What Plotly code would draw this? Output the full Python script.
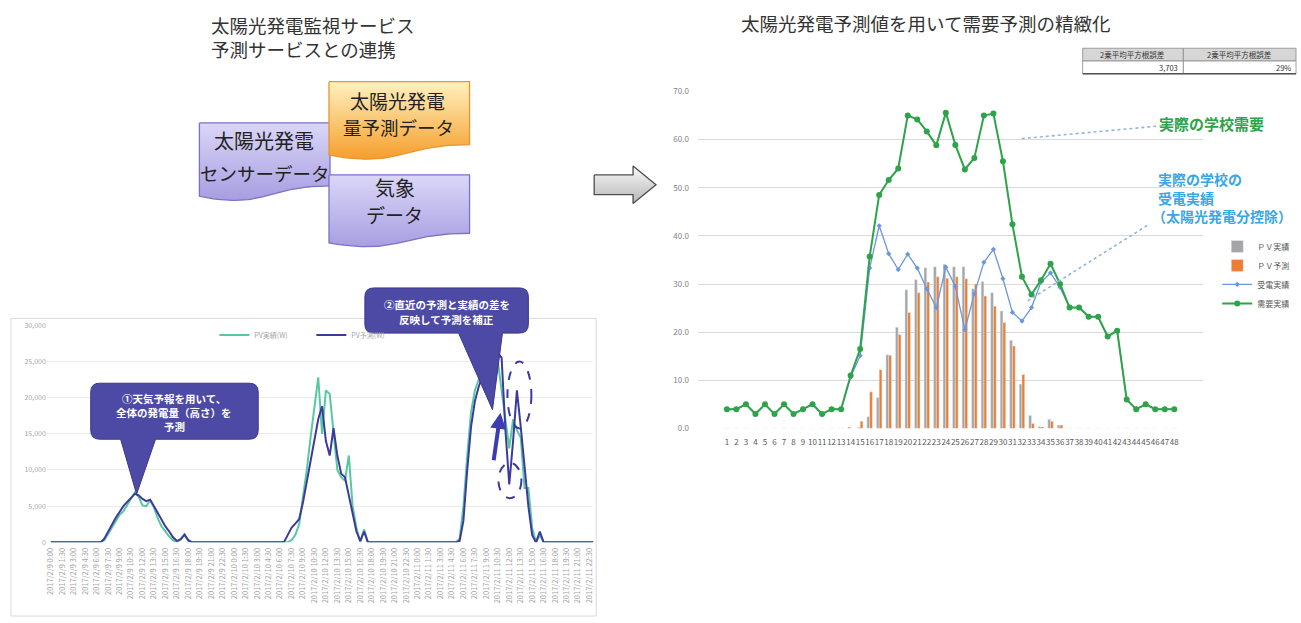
import numpy as np
import pandas as pd
import plotly.graph_objects as go

W, H = 1301, 623
FONT = "Noto Sans CJK JP"

# ---------------- right chart: demand per 30-minute slot ----------------
slots = [str(i) for i in range(1, 49)]
demand = [4, 4, 5, 3, 5, 3, 5, 3, 4, 5, 3, 4, 4,
          11.0, 16.5, 35.7, 48.5, 51.6, 54.0, 65.0, 64.2, 61.7, 58.8, 65.6,
          58.9, 53.8, 56.2, 65.0, 65.4, 55.5, 42.4, 31.5, 27.8, 30.8, 34.2, 30.0,
          25.1, 25.1, 23.2, 23.2, 19.1, 20.3, 6.0, 4, 5, 4, 4, 4]
received = [4, 4, 5, 3, 5, 3, 5, 3, 4, 5, 3, 4, 4,
            10.7, 15.1, 33.3, 42.1, 36.3, 33.0, 36.2, 33.3, 29.0, 25.1, 33.5,
            29.5, 20.5, 28.0, 34.5, 37.2, 31.1, 24.1, 22.3, 25.1, 30.4, 32.3, 29.3,
            25.1, 25.1, 23.2, 23.2, 19.1, 20.3, 6.0, 4, 5, 4, 4, 4]
pv_actual = [0, 0, 0, 0, 0, 0, 0, 0, 0, 0, 0, 0, 0,
             0.3, 0.2, 2.4, 6.4, 15.3, 21.0, 28.8, 30.9, 33.4, 33.6, 34.1,
             33.6, 33.6, 29.0, 30.5, 28.2, 24.4, 18.3, 9.2, 2.7, 0.4, 1.9, 0.7,
             0, 0, 0, 0, 0, 0, 0, 0, 0, 0, 0, 0]
pv_forecast = [0, 0, 0, 0, 0, 0, 0, 0, 0, 0, 0, 0, 0,
               0, 1.5, 7.6, 12.2, 15.2, 19.5, 24.1, 28.2, 30.4, 31.5, 31.2,
               31.5, 31.1, 30.0, 27.5, 25.4, 22.0, 17.1, 11.2, 1.0, 0.3, 1.5, 0.7,
               0, 0, 0, 0, 0, 0, 0, 0, 0, 0, 0, 0]

# ---------------- left chart: PV output (W), 30-minute steps, 3 days ----------------
pv_act_day1 = [0, 0, 0, 0, 0, 0, 0, 0, 0, 0, 0, 0, 0, 0,
               300, 1200, 2200, 3000, 3800, 4300, 5200, 6000, 6900, 6300, 5100, 5000,
               5800, 4800, 3300, 2200, 1500, 800, 300, 0, 500, 1000, 200,
               0, 0, 0, 0, 0, 0, 0, 0, 0, 0, 0]
pv_fc_day1 = [0, 0, 0, 0, 0, 0, 0, 0, 0, 0, 0, 0, 0, 0,
              500, 1500, 2500, 3400, 4200, 5000, 5600, 6200, 6700, 6500, 6000, 5700,
              5900, 5000, 4000, 3000, 2200, 1500, 700, 200, 400, 1100, 300,
              0, 0, 0, 0, 0, 0, 0, 0, 0, 0, 0]
pv_act_day2 = [0, 0, 0, 0, 0, 0, 0, 0, 0, 0, 0, 0, 0, 0, 0,
               300, 1000, 2500, 6000, 10000, 14500, 19000, 22800, 15000, 21000,
               20500, 15000, 10000, 9000, 8500, 12000, 5000, 2000, 0, 1800,
               0, 0, 0, 0, 0, 0, 0, 0, 0, 0, 0, 0, 0]
pv_fc_day2 = [0, 0, 0, 0, 0, 0, 0, 0, 0, 0, 0, 0, 0, 0,
              1000, 2000, 2600, 3200, 5500, 8500, 11500, 14500, 17000, 18800, 14000,
              12000, 15800, 12000, 9500, 9000, 6500, 4000, 1500, 200, 1500,
              0, 0, 0, 0, 0, 0, 0, 0, 0, 0, 0, 0, 0]
pv_act_day3 = [0, 0, 0, 0, 0, 0, 0, 0, 0, 0, 0,
               500, 5000, 12000, 18000, 21000, 22500, 23500, 24500, 25200, 25700, 25000,
               21000, 16500, 13000, 17000, 15500, 14500, 7500, 7500, 2000, 0, 1000,
               0, 0, 0, 0, 0, 0, 0, 0, 0, 0, 0, 0, 0, 0, 0]
pv_fc_day3 = [0, 0, 0, 0, 0, 0, 0, 0, 0, 0, 0,
              200, 3000, 10000, 16000, 19500, 21500, 23000, 24000, 25000, 25800, 26200,
              25500, 15500, 8000, 14000, 21000, 16000, 10000, 5000, 1000, 0, 1500,
              0, 0, 0, 0, 0, 0, 0, 0, 0, 0, 0, 0, 0, 0, 0]

times = pd.date_range("2017-02-09 00:00", periods=144, freq="30min")
time_ticks = pd.date_range("2017-02-09 00:00", "2017-02-11 22:30", freq="90min")
pv_act = pv_act_day1 + pv_act_day2 + pv_act_day3
pv_fc = pv_fc_day1 + pv_fc_day2 + pv_fc_day3


# pixel helpers
def fx(px):
    return px / W


def fy(py):
    return 1 - py / H


def Y(py):
    return H - py


fig = go.Figure()

# ---- left chart traces ----
fig.add_trace(go.Scatter(x=times, y=pv_act, name="PV実績(W)", mode="lines",
                         line=dict(color="#57c9a0", width=2), xaxis="x", yaxis="y",
                         legend="legend2"))
fig.add_trace(go.Scatter(x=times, y=pv_fc, name="PV予測(W)", mode="lines",
                         line=dict(color="#3d3a9e", width=2), xaxis="x", yaxis="y",
                         legend="legend2"))

# ---- right chart traces ----
fig.add_trace(go.Bar(x=slots, y=pv_actual, name="ＰＶ実績", marker_color="#a5a5a5",
                     xaxis="x2", yaxis="y2"))
fig.add_trace(go.Bar(x=slots, y=pv_forecast, name="ＰＶ予測", marker_color="#ed7d31",
                     xaxis="x2", yaxis="y2"))
fig.add_trace(go.Scatter(x=slots, y=received, name="受電実績", mode="lines+markers",
                         line=dict(color="#6b97dc", width=1.3),
                         marker=dict(size=4, symbol="diamond", color="#6b97dc"),
                         xaxis="x2", yaxis="y2"))
fig.add_trace(go.Scatter(x=slots, y=demand, name="需要実績", mode="lines+markers",
                         line=dict(color="#2ea34a", width=2),
                         marker=dict(size=6, color="#2ea34a"),
                         xaxis="x2", yaxis="y2"))


# ---- document shapes (flowchart "document" outline with wavy bottom) ----
def doc_outline(left, top, width, height, n=40):
    right = left + width
    p0 = np.array([right, top + 0.802 * height])
    c1 = np.array([left + 0.5 * width, top + 0.802 * height])
    c2 = np.array([left + 0.5 * width, top + 1.107 * height])
    p3 = np.array([left, top + 0.934 * height])
    t = np.linspace(0, 1, n)[:, None]
    pts = (1 - t) ** 3 * p0 + 3 * (1 - t) ** 2 * t * c1 + 3 * (1 - t) * t ** 2 * c2 + t ** 3 * p3
    xs = [left, right] + list(pts[:, 0]) + [left]
    ys = [top, top] + list(pts[:, 1]) + [top]
    return xs, [Y(v) for v in ys], top, top + 1.0 * height


def add_doc(left, top, width, height, top_col, bottom_col, edge):
    xs, ys, t_px, b_px = doc_outline(left, top, width, height)
    fig.add_trace(go.Scatter(
        x=xs, y=ys, mode="lines", fill="toself",
        line=dict(color=edge, width=1.3),
        fillgradient=dict(type="vertical", start=Y(b_px), stop=Y(t_px),
                          colorscale=[[0, bottom_col], [1, top_col]]),
        xaxis="x3", yaxis="y3", showlegend=False, hoverinfo="skip"))


add_doc(197, 119, 131, 80, "#d9d5f7", "#a49ae0", "#7b71c6")
add_doc(327, 77, 141, 80, "#fff0bd", "#f59a25", "#e8952f")
add_doc(327, 172, 141, 74, "#d9d5f7", "#a49ae0", "#7b71c6")

# ---- grey block arrow ----
arrow_px = [(593, 172), (632, 172), (632, 163), (655, 182), (632, 201), (632, 192), (593, 192), (593, 172)]
fig.add_trace(go.Scatter(
    x=[p[0] for p in arrow_px], y=[Y(p[1]) for p in arrow_px], mode="lines", fill="toself",
    line=dict(color="#4d4d4d", width=1.3),
    fillgradient=dict(type="vertical", start=Y(201), stop=Y(163),
                      colorscale=[[0, "#b0b0b0"], [1, "#f4f4f4"]]),
    xaxis="x3", yaxis="y3", showlegend=False, hoverinfo="skip"))

shapes = []

# frame of the left chart
shapes.append(dict(type="rect", xref="x3", yref="y3", x0=8, x1=595, y0=Y(318), y1=Y(621),
                   line=dict(color="#d9d9d9", width=1), fillcolor="rgba(0,0,0,0)", layer="below"))


def callout(l, t, r, b, rad, base0, base1, tip):
    def p(x, y):
        return f"{x},{Y(y)}"
    return ("M " + p(l + rad, t) + " L " + p(r - rad, t) + " Q " + p(r, t) + " " + p(r, t + rad) +
            " L " + p(r, b - rad) + " Q " + p(r, b) + " " + p(r - rad, b) +
            " L " + p(base1, b) + " L " + p(tip[0], tip[1]) + " L " + p(base0, b) +
            " L " + p(l + rad, b) + " Q " + p(l, b) + " " + p(l, b - rad) +
            " L " + p(l, t + rad) + " Q " + p(l, t) + " " + p(l + rad, t) + " Z")


CALLOUT_FILL = "#4d4aa6"
shapes.append(dict(type="path", xref="x3", yref="y3", layer="above",
                   path=callout(88, 384, 256, 441, 9, 118, 153, (134, 497)),
                   fillcolor=CALLOUT_FILL, line=dict(color="#3a3790", width=1)))
shapes.append(dict(type="path", xref="x3", yref="y3", layer="above",
                   path=callout(363, 287, 527, 333, 9, 457, 501, (491, 411)),
                   fillcolor=CALLOUT_FILL, line=dict(color="#3a3790", width=1)))

# dashed rings on the corrected forecast
shapes.append(dict(type="circle", xref="x3", yref="y3", layer="above", x0=506, x1=530,
                   y0=Y(430), y1=Y(362), line=dict(color="#3d3a9e", width=2, dash="dash")))
shapes.append(dict(type="circle", xref="x3", yref="y3", layer="above", x0=497, x1=520,
                   y0=Y(501), y1=Y(465), line=dict(color="#3d3a9e", width=2, dash="dash")))

# dotted leader lines on the right chart
shapes.append(dict(type="line", xref="x3", yref="y3", layer="above", x0=1022, y0=Y(135),
                   x1=1183, y1=Y(120), line=dict(color="#8fb5df", width=1.6, dash="dot")))
shapes.append(dict(type="line", xref="x3", yref="y3", layer="above", x0=1028, y0=Y(300),
                   x1=1150, y1=Y(222), line=dict(color="#8fb5df", width=1.6, dash="dot")))

# error table (top right)
for x0, x1 in [(1083, 1184), (1184, 1297)]:
    shapes.append(dict(type="rect", xref="x3", yref="y3", layer="above", x0=x0, x1=x1,
                       y0=Y(56), y1=Y(43), fillcolor="#d6d6d6", line=dict(color="#8c8c8c", width=0.8)))
    shapes.append(dict(type="rect", xref="x3", yref="y3", layer="above", x0=x0, x1=x1,
                       y0=Y(69), y1=Y(56), fillcolor="#ffffff", line=dict(color="#8c8c8c", width=0.8)))
shapes.append(dict(type="line", xref="x3", yref="y3", layer="above", x0=1083, x1=1297,
                   y0=Y(69), y1=Y(69), line=dict(color="#555555", width=1.5)))

annotations = []


def text(px, py, s, size, color="#222222", bold=False, anchor="center", family=FONT):
    annotations.append(dict(
        x=fx(px), y=fy(py), xref="paper", yref="paper", showarrow=False,
        text=f"<b>{s}</b>" if bold else s, xanchor=anchor, yanchor="middle",
        align=anchor if anchor != "center" else "center",
        font=dict(size=size, color=color, family=family)))


# headings
text(207, 32, "太陽光発電監視サービス<br>予測サービスとの連携", 18.5, "#333333", anchor="left")
text(925, 17, "太陽光発電予測値を用いて需要予測の精緻化", 18.5, "#333333")

# document labels
text(262, 137, "太陽光発電", 20)
text(263, 170, "センサーデータ", 18.5)
text(396, 96, "太陽光発電", 19)
text(397, 123, "量予測データ", 18.5)
text(393, 185, "気象", 20)
text(393, 212, "データ", 19)

# callout texts
for py, s in [(400, "①天気予報を用いて、"), (414, "全体の発電量（高さ）を"), (428, "予測")]:
    text(172, py, s, 10.5, "#ffffff", bold=True)
for py, s in [(304, "②直近の予測と実績の差を"), (319, "反映して予測を補正")]:
    text(445, py, s, 10.5, "#ffffff", bold=True)

# right chart labels
text(1212, 120, "実際の学校需要", 15, "#2ea34a", bold=True)
text(1157, 176, "実際の学校の", 14, "#3aa6e3", bold=True, anchor="left")
text(1157, 195, "受電実績", 14, "#3aa6e3", bold=True, anchor="left")
text(1151, 214, "（太陽光発電分控除）", 14, "#3aa6e3", bold=True, anchor="left")

# table texts
text(1133, 49.5, "2乗平均平方根誤差", 7.5, "#333333")
text(1240, 49.5, "2乗平均平方根誤差", 7.5, "#333333")
text(1181, 62.5, "3,703", 7.5, "#333333", anchor="right")
text(1294, 62.5, "29%", 7.5, "#333333", anchor="right")

# thick correction arrow
annotations.append(dict(x=499, y=Y(414), xref="x3", yref="y3", ax=492, ay=Y(464),
                        axref="x3", ayref="y3", showarrow=True, text="", arrowhead=2,
                        arrowsize=0.8, arrowwidth=4, arrowcolor="#3c3cb4"))

fig.update_layout(
    width=W, height=H, margin=dict(l=0, r=0, t=0, b=0),
    paper_bgcolor="#ffffff", plot_bgcolor="rgba(0,0,0,0)",
    font=dict(family=FONT, color="#333333"),
    barmode="group", bargap=0.42, bargroupgap=0,
    shapes=shapes, annotations=annotations,
    xaxis=dict(domain=[fx(44), fx(592)], anchor="y", type="date",
               range=["2017-02-08 23:29", "2017-02-11 22:59"],
               tickmode="array", tickvals=list(time_ticks),
               tickformat="%Y/%-m/%-d %-H:%M", tickangle=-90,
               tickfont=dict(size=7.5, color="#a6a6a6"), showgrid=False, zeroline=False,
               showline=False, ticks="", ticklabelstandoff=3, fixedrange=True),
    yaxis=dict(domain=[fy(546), fy(325)], anchor="x", range=[0, 30000],
               tickmode="array", tickvals=[0, 5000, 10000, 15000, 20000, 25000, 30000],
               tickformat=",", gridcolor="#ececec", zeroline=False, showline=False,
               tickfont=dict(size=7, color="#a6a6a6"), fixedrange=True),
    xaxis2=dict(domain=[fx(697), fx(1204)], anchor="y2", type="category",
                tickmode="array", tickvals=slots, ticktext=slots, tickangle=0,
                tickfont=dict(size=8, color="#595959"), showgrid=False, zeroline=False,
                showline=False, ticks="", ticklabelstandoff=8, fixedrange=True),
    yaxis2=dict(domain=[fy(430), fy(87)], anchor="x2", range=[0, 70], dtick=10,
                tickformat=".1f", gridcolor="#d9d9d9", zeroline=False, showline=False,
                tickfont=dict(size=8, color="#7f7f7f"), ticklabelstandoff=8, fixedrange=True),
    xaxis3=dict(domain=[0, 1], anchor="y3", range=[0, W], visible=False, fixedrange=True),
    yaxis3=dict(domain=[0, 1], anchor="x3", range=[0, H], visible=False, fixedrange=True),
    legend=dict(x=fx(1218), y=fy(230), xanchor="left", yanchor="top",
                font=dict(size=8, color="#595959"), bgcolor="rgba(0,0,0,0)",
                itemwidth=30, traceorder="normal"),
    legend2=dict(orientation="h", x=fx(212), y=fy(335), xanchor="left", yanchor="middle",
                 font=dict(size=7, color="#a6a6a6"), bgcolor="rgba(0,0,0,0)",
                 itemwidth=30, entrywidth=52, entrywidthmode="pixels"),
    showlegend=True,
)

fig.write_html("out.html", config={"displayModeBar": False})
